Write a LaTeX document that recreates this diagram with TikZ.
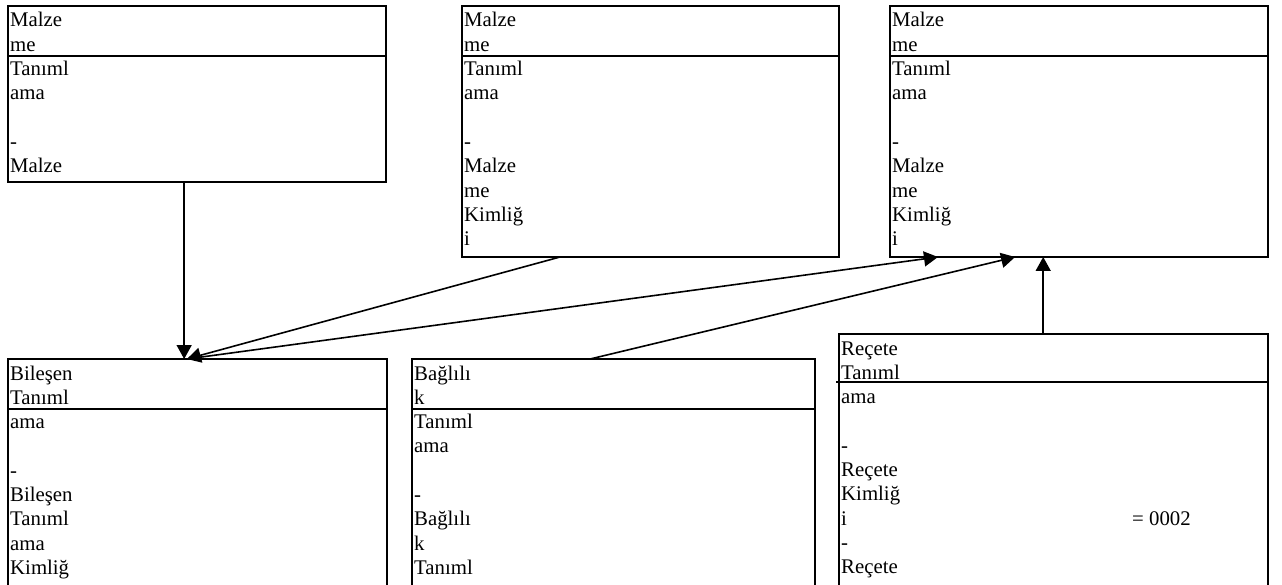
\documentclass[tikz,border=0pt]{standalone}
\usepackage{fontspec}
\setmainfont{Liberation Serif}
\usetikzlibrary{arrows.meta,calc}
\begin{document}
\begin{tikzpicture}[x=1pt,y=-1pt,
  umlbox/.style={draw, line width=1.6pt, rectangle, inner sep=0pt, outer sep=0pt, anchor=north west},
  sepline/.style={line width=1.3pt},
  link/.style={line width=1.6pt, -{Triangle[length=14pt,width=15pt]}},
  txt/.style={anchor=base west, inner sep=0pt, font=\fontsize{20.8}{24.3}\selectfont}]
\newcommand{\cell}[1]{\parbox[t]{360pt}{\raggedright #1}}
\fill[white] (0,0) rectangle (1282,585);
\useasboundingbox (0,0) rectangle (1282,585);
\clip (0,0) rectangle (1282,585);

% entity boxes
\node[umlbox, minimum width=378pt, minimum height=176pt] (a) at (8,6) {};
\node[umlbox, minimum width=377pt, minimum height=251pt] (b) at (462,6) {};
\node[umlbox, minimum width=378pt, minimum height=251pt] (c) at (890,6) {};
\node[umlbox, minimum width=379pt, minimum height=260pt] (d) at (8,359) {};
\node[umlbox, minimum width=403pt, minimum height=260pt] (e) at (412,359) {};
\node[umlbox, minimum width=429pt, minimum height=285pt] (f) at (839,334) {};

% compartment separators
\draw[sepline] ([yshift=-50pt]a.north west) -- ([yshift=-50pt]a.north east);
\draw[sepline] ([yshift=-50pt]b.north west) -- ([yshift=-50pt]b.north east);
\draw[sepline] ([yshift=-50pt]c.north west) -- ([yshift=-50pt]c.north east);
\draw[sepline] ([yshift=-50pt]d.north west) -- ([yshift=-50pt]d.north east);
\draw[sepline] ([yshift=-50pt]e.north west) -- ([yshift=-50pt]e.north east);
\draw[sepline] ([shift={(-3,48)}]f.north west) -- ([yshift=-48pt]f.north east);

% box texts
\node[txt] (a-text) at ([shift={(2,21)}]a.north west)
  {\cell{Malze\\me\\Tanıml\\ama\\\mbox{}\\-\\Malze}};
\node[txt] (b-text) at ([shift={(2,21)}]b.north west)
  {\cell{Malze\\me\\Tanıml\\ama\\\mbox{}\\-\\Malze\\me\\Kimliğ\\i}};
\node[txt] (c-text) at ([shift={(2,21)}]c.north west)
  {\cell{Malze\\me\\Tanıml\\ama\\\mbox{}\\-\\Malze\\me\\Kimliğ\\i}};
\node[txt] (d-text) at ([shift={(2,21)}]d.north west)
  {\cell{Bileşen\\Tanıml\\ama\\\mbox{}\\-\\Bileşen\\Tanıml\\ama\\Kimliğ}};
\node[txt] (e-text) at ([shift={(2,21)}]e.north west)
  {\cell{Bağlılı\\k\\Tanıml\\ama\\\mbox{}\\-\\Bağlılı\\k\\Tanıml}};
\node[txt] (f-text) at ([shift={(2,21)}]f.north west)
  {\cell{Reçete\\Tanıml\\ama\\\mbox{}\\-\\Reçete\\Kimliğ\\i\\-\\Reçete}};
\node[txt] (f-value) at ([shift={(293,191)}]f.north west) {= 0002};

% connectors
\coordinate (a-out) at ($(a.south west)!0.466!(a.south east)$);
\coordinate (b-out) at ($(b.south west)!0.26!(b.south east)$);
\coordinate (d-in)  at ($(d.north west)!0.472!(d.north east)$);
\coordinate (c-in1) at ($(c.south west)!0.127!(c.south east)$);
\coordinate (c-in2) at ($(c.south west)!0.331!(c.south east)$);
\coordinate (e-out) at ($(e.north west)!0.442!(e.north east)$);
\coordinate (f-out) at ($(f.north west)!0.476!(f.north east)$);

\draw[link] (a-out) -- (a-out |- d.north);
\draw[link] (b-out) -- (d-in);
\draw[link] (d-in) -- (c-in1);
\draw[link] (e-out) -- (c-in2);
\draw[link] (f-out) -- (f-out |- c.south);
\end{tikzpicture}
\end{document}
